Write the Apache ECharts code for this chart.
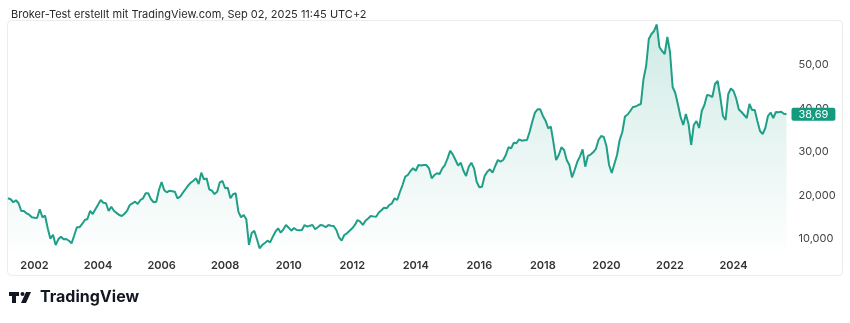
<!DOCTYPE html>
<html>
<head>
<meta charset="utf-8">
<title>Broker-Test</title>
<script src="https://cdn.jsdelivr.net/npm/echarts@6/dist/echarts.min.js"></script>
<style>
  html, body { margin: 0; padding: 0; background: #fff; }
  #chart { width: 850px; height: 323px; }
</style>
</head>
<body>
<div id="chart"></div>
<script>
// Monthly closing prices, starting March 2001
const startYear = 2001;
const startMonth = 3;
const values = [
  19.36, 19.13, 18.44, 18.90, 18.21, 16.44, 16.44, 15.91, 15.59, 14.99,
  14.90, 14.83, 16.83, 14.99, 15.36, 12.46, 10.07, 10.99, 8.62, 9.93,
  10.53, 9.93, 10.00, 9.60, 9.01, 10.80, 12.69, 12.69, 13.45, 14.37,
  14.60, 16.44, 15.75, 16.83, 17.90, 18.97, 18.34, 18.21, 16.44, 17.43,
  16.51, 16.00, 15.52, 15.29, 15.80, 16.51, 17.82, 18.21, 18.57, 18.05,
  18.97, 19.36, 20.51, 20.51, 19.13, 18.44, 18.57, 21.26, 23.10, 21.20,
  20.74, 21.10, 21.00, 20.87, 19.36, 19.72, 20.60, 21.43, 22.25, 22.94,
  23.40, 23.95, 22.64, 25.24, 23.72, 23.95, 21.43, 21.10, 20.34, 20.87,
  23.03, 23.33, 21.66, 21.79, 19.36, 20.28, 20.51, 16.28, 14.99, 15.52,
  14.53, 8.62, 11.31, 11.91, 10.00, 7.86, 8.62, 9.10, 9.61, 9.24,
  10.53, 11.68, 12.46, 11.45, 12.23, 13.22, 12.60, 11.91, 12.53, 12.07,
  12.00, 12.07, 13.22, 12.83, 13.06, 13.22, 12.23, 12.69, 13.22, 13.10,
  12.70, 13.22, 13.06, 12.99, 12.07, 10.39, 9.61, 10.92, 11.31, 11.90,
  12.46, 13.22, 14.37, 13.98, 13.22, 14.21, 14.70, 15.29, 15.20, 15.13,
  16.05, 16.60, 17.20, 17.06, 17.82, 18.21, 19.36, 18.97, 20.80, 22.41,
  24.32, 24.71, 25.63, 26.25, 25.70, 27.01, 26.90, 27.01, 27.01, 26.25,
  23.95, 24.71, 25.10, 24.94, 26.25, 27.01, 28.55, 30.30, 29.40, 28.16,
  26.85, 27.54, 25.70, 24.48, 26.62, 27.54, 26.25, 23.17, 21.90, 22.00,
  24.50, 25.47, 26.02, 25.24, 26.78, 28.16, 27.77, 28.16, 29.31, 31.08,
  30.85, 32.14, 32.00, 32.92, 32.60, 32.70, 32.76, 34.67, 36.97, 39.03,
  39.82, 39.82, 38.30, 37.20, 35.45, 35.82, 32.14, 28.16, 29.31, 31.08,
  30.46, 28.16, 27.00, 24.18, 25.86, 27.77, 29.00, 30.62, 26.62, 29.10,
  29.40, 29.93, 30.70, 32.76, 33.68, 33.45, 31.38, 27.01, 25.17, 27.24,
  29.31, 32.76, 34.60, 38.16, 38.62, 39.43, 40.34, 40.46, 40.80, 41.03,
  46.78, 49.77, 55.98, 57.13, 57.82, 59.31, 54.14, 53.22, 52.53, 56.44,
  52.99, 44.94, 43.56, 40.92, 38.05, 36.21, 38.74, 36.44, 31.61, 36.21,
  37.13, 35.52, 39.43, 40.80, 43.10, 42.99, 42.64, 45.63, 46.32, 42.64,
  38.28, 37.36, 43.33, 44.60, 44.02, 42.30, 39.77, 39.20, 38.51, 37.82,
  41.03, 39.66, 39.66, 37.13, 34.83, 34.14, 35.52, 38.28, 39.08, 37.82,
  39.20, 39.13, 39.26, 38.80, 38.69
];

// Price scale ticks and their printed labels
const yTicks = [10, 20, 30, 40, 50];
const yTickLabels = ['10,000', '20,000', '30,00', '40,00', '50,00'];

const titleText = 'Broker-Test erstellt mit TradingView.com, Sep 02, 2025 11:45 UTC+2';

const months = values.map((_, i) => {
  const t = startYear * 12 + (startMonth - 1) + i;
  return Math.floor(t / 12) + '-' + String(t % 12 + 1).padStart(2, '0');
});

const lastValue = values[values.length - 1];
const lastLabel = lastValue.toFixed(2).replace('.', ',');

const lineColor = '#1f9f87';
const font = 'Inter, "Noto Sans", sans-serif';

const chart = echarts.init(document.getElementById('chart'), null, { renderer: 'canvas' });

chart.setOption({
  animation: false,
  backgroundColor: '#fff',
  title: {
    text: titleText,
    left: 6,
    top: 4,
    textStyle: { fontSize: 11, fontWeight: 'normal', color: '#2a2a2a', fontFamily: font }
  },
  grid: { left: 8, right: 63.5, top: 21, bottom: 73, containLabel: false },
  xAxis: {
    type: 'category',
    data: months,
    boundaryGap: false,
    axisLine: { show: false },
    axisTick: { show: false },
    splitLine: { show: false },
    axisLabel: {
      interval: (idx, val) => val.endsWith('-01') && (+val.slice(0, 4)) % 2 === 0,
      formatter: val => val.slice(0, 4),
      margin: 10,
      fontSize: 11,
      fontWeight: 600,
      color: '#333',
      fontFamily: font
    }
  },
  yAxis: {
    type: 'value',
    position: 'right',
    min: 7.471,
    max: 60.115,
    splitLine: { show: false },
    axisLine: { show: false },
    axisTick: { show: false },
    axisLabel: {
      customValues: yTicks,
      formatter: v => yTickLabels[yTicks.indexOf(v)],
      margin: 12,
      fontSize: 11,
      color: '#444',
      fontFamily: font
    }
  },
  series: [{
    type: 'line',
    data: values,
    symbol: 'none',
    lineStyle: { color: lineColor, width: 2 },
    areaStyle: {
      color: new echarts.graphic.LinearGradient(0, 0, 0, 1, [
        { offset: 0, color: 'rgba(31,159,135,0.30)' },
        { offset: 1, color: 'rgba(31,159,135,0.01)' }
      ])
    },
    markLine: {
      silent: true,
      symbol: ['none', 'none'],
      lineStyle: { color: 'rgba(0,0,0,0)', width: 0, type: 'solid' },
      emphasis: { disabled: true },
      data: [{ yAxis: lastValue }],
      label: {
        show: true,
        position: 'end',
        formatter: lastLabel,
        distance: 5,
        opacity: 1,
        backgroundColor: '#139b80',
        color: '#fff',
        fontSize: 11,
        fontFamily: font,
        padding: [1, 7, 1, 7],
        borderRadius: 2
      }
    }
  }],
  graphic: [
    {
      type: 'rect',
      silent: true,
      z: -1,
      shape: { x: 7.5, y: 20.5, width: 835, height: 255, r: 4 },
      style: { fill: 'none', stroke: '#ececec', lineWidth: 1 }
    },
    {
      type: 'group',
      left: 9,
      top: 292,
      children: [
        { type: 'rect', shape: { x: 0, y: 0, width: 10, height: 4 }, style: { fill: '#131722' } },
        { type: 'rect', shape: { x: 3, y: 0, width: 4, height: 11 }, style: { fill: '#131722' } },
        { type: 'circle', shape: { cx: 13.5, cy: 2, r: 2 }, style: { fill: '#131722' } },
        { type: 'polygon', shape: { points: [[17, 0], [22, 0], [17, 11], [12, 11]] }, style: { fill: '#131722' } }
      ]
    },
    {
      type: 'text',
      left: 40,
      top: 289,
      style: { text: 'TradingView', fontSize: 16, fontWeight: 700, fill: '#131722', fontFamily: font }
    }
  ]
});
</script>
</body>
</html>
